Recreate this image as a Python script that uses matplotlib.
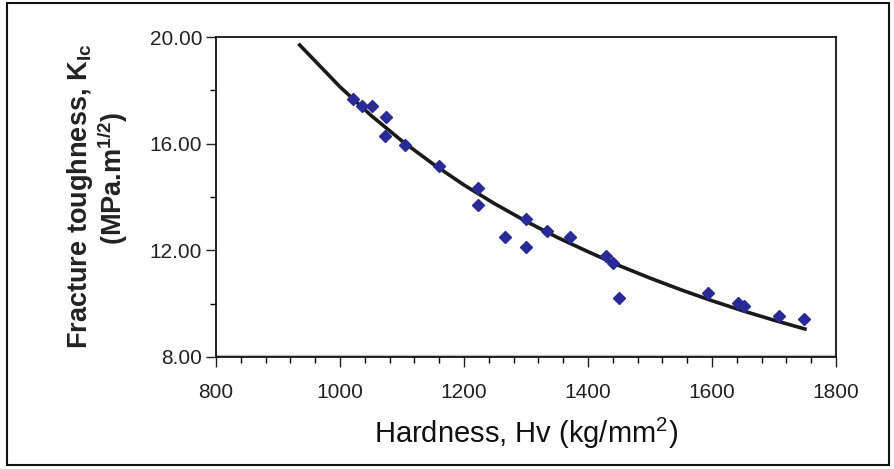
import numpy as np
import matplotlib
matplotlib.use("Agg")
from matplotlib import pyplot as plt
from matplotlib.ticker import MultipleLocator, FormatStrFormatter
from matplotlib.patches import Rectangle

plt.rcParams['font.family'] = ['Liberation Sans', 'DejaVu Sans']
plt.rcParams['mathtext.fontset'] = 'custom'
plt.rcParams['mathtext.rm'] = 'Liberation Sans'
plt.rcParams['mathtext.bf'] = 'Liberation Sans:bold'
plt.rcParams['mathtext.it'] = 'Liberation Sans:italic'

# measured points (hardness Hv, toughness KIc)
hardness = [1021, 1035, 1051, 1074, 1072, 1105, 1159, 1223, 1223, 1266, 1300,
            1300, 1334, 1371, 1429, 1440, 1450, 1593, 1642, 1652, 1708, 1749]
toughness = [17.68, 17.41, 17.41, 17.01, 16.29, 15.95, 15.16, 14.34, 13.70, 12.50, 13.18,
             12.13, 12.73, 12.50, 11.79, 11.53, 10.21, 10.40, 10.03, 9.91, 9.54, 9.43]

# trend line
fit_h = [935, 1000, 1050, 1100, 1150, 1200, 1250, 1300, 1350, 1400,
         1450, 1500, 1550, 1600, 1650, 1700, 1750]
fit_k = [19.70, 18.13, 17.06, 16.10, 15.24, 14.45, 13.74, 13.09, 12.49, 11.95,
         11.43, 10.96, 10.52, 10.11, 9.73, 9.38, 9.05]

fig = plt.figure(figsize=(8.95, 4.69), dpi=100)
ax = fig.add_axes([216/895, 1-357/469, (836-216)/895, (357-37)/469])

ax.plot(fit_h, fit_k, color="#1a1a1a", lw=2.6, zorder=2)
ax.plot(hardness, toughness, "D", color="#2a2a96", ms=6.5, mec="#2a2a96", zorder=3)

ax.set_xlim(800, 1800)
ax.set_ylim(8, 20)
ax.xaxis.set_major_locator(MultipleLocator(200))
ax.xaxis.set_minor_locator(MultipleLocator(40))
ax.yaxis.set_major_locator(MultipleLocator(4))
ax.yaxis.set_minor_locator(MultipleLocator(2))
ax.yaxis.set_major_formatter(FormatStrFormatter("%.2f"))

ax.tick_params(axis="x", which="major", direction="out", length=7, width=1, pad=12,
               labelsize=15, colors="#222222")
ax.tick_params(axis="x", which="minor", direction="out", length=4, width=1)
ax.tick_params(axis="y", which="major", direction="out", length=7, width=1, pad=3,
               labelsize=15, colors="#222222")
ax.tick_params(axis="y", which="minor", direction="out", length=4, width=1)

for s in ax.spines.values():
    s.set_linewidth(1.3)
    s.set_color("#111111")
ax.axhline(8, color="#bbbbbb", lw=3, zorder=0)

ax.set_xlabel(r"Hardness, Hv (kg/mm$^{\mathrm{2}}$)", fontsize=21, color="#111111", labelpad=10)

fig.text(80/895, 1-196/469, r"Fracture toughness, K$_{\mathbf{Ic}}$", rotation=90,
         fontsize=19.5, fontweight="bold", color="#222222", ha="center", va="center")
fig.text(113/895, 1-178/469, r"(MPa.m$^{\mathbf{1/2}}$)", rotation=90,
         fontsize=19.5, fontweight="bold", color="#222222", ha="center", va="center")

fig.patches.append(Rectangle((7/895, 1-465/469), (889-7)/895, (465-3)/469,
                             transform=fig.transFigure, fill=False, lw=1.5,
                             edgecolor="#111111"))

fig.savefig("out.png", dpi=100)
